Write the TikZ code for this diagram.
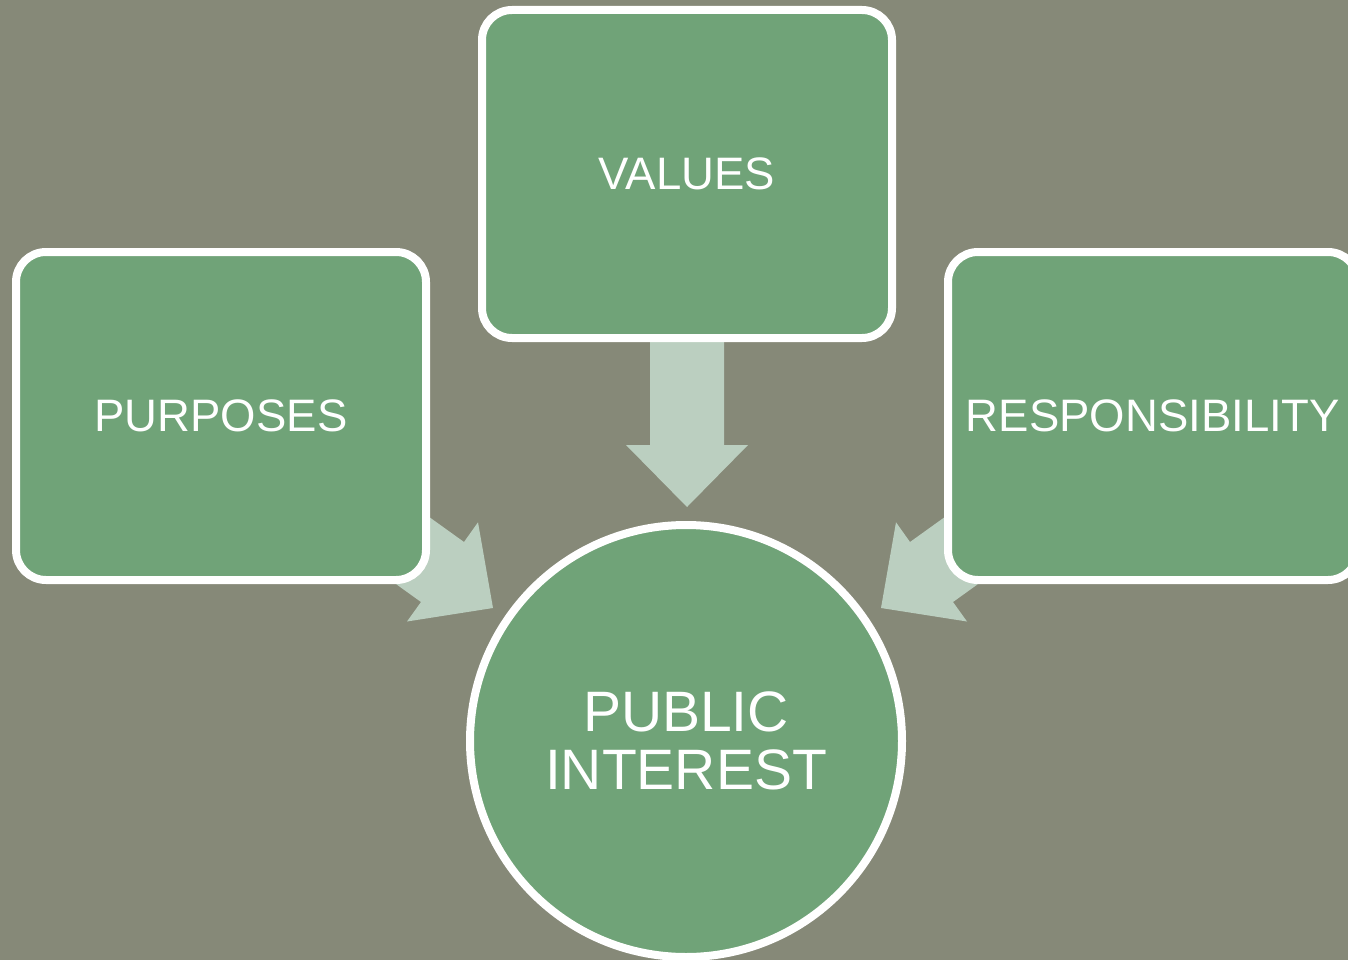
\documentclass[tikz,border=0pt]{standalone}
\usepackage{fontspec}
\setmainfont{Liberation Sans}
\definecolor{bgc}{RGB}{134,137,120}
\definecolor{boxg}{RGB}{112,163,120}
\definecolor{arrl}{RGB}{187,207,192}
\tikzset{
  greenbox/.style={draw=white, line width=8pt, fill=boxg, rounded corners=30pt,
    minimum width=410pt, minimum height=328pt, inner sep=0pt, text=white,
    font=\fontsize{45.5}{47}\selectfont},
  greencircle/.style={circle, draw=white, line width=8pt, fill=boxg,
    minimum size=432pt, inner sep=0pt, text=white, align=center,
    font=\fontsize{57}{58.5}\selectfont},
  blockarrow/.style={fill=arrl, draw=none}
}
\begin{document}
\begin{tikzpicture}[x=1pt,y=-1pt]
\useasboundingbox (0,0) rectangle (1348,960);
\clip (0,0) rectangle (1348,960);
\fill[bgc] (0,0) rectangle (1348,960);
% block arrows (drawn beneath the shapes)
\coordinate (tipV) at (687,507);
\coordinate (tipL) at (493,608);
\coordinate (tipR) at (881,608);
\fill[blockarrow] (650,330) -- (724,330) -- (724,445) -- (748,445) -- (tipV)
  -- (626,445) -- (650,445) -- cycle;
\fill[blockarrow] (366.5,472) -- (464,542) -- (478,522.3) -- (tipL)
  -- (407,621.5) -- (421,602) -- (323.5,532) -- cycle;
\fill[blockarrow] (1007.5,472) -- (910,542) -- (896,522.3) -- (tipR)
  -- (967,621.5) -- (953,602) -- (1050.5,532) -- cycle;
% shapes
\node[greenbox] (values) at (687,174) {\raisebox{1.5pt}{VALUES}};
\node[greenbox] (purposes) at (221,416) {PURPOSES};
\node[greenbox] (resp) at (1153,416) {RESPONSIBILITY};
\node[greencircle] (pi) at (686,741) {PUBLIC\\INTEREST};
\end{tikzpicture}
\end{document}
